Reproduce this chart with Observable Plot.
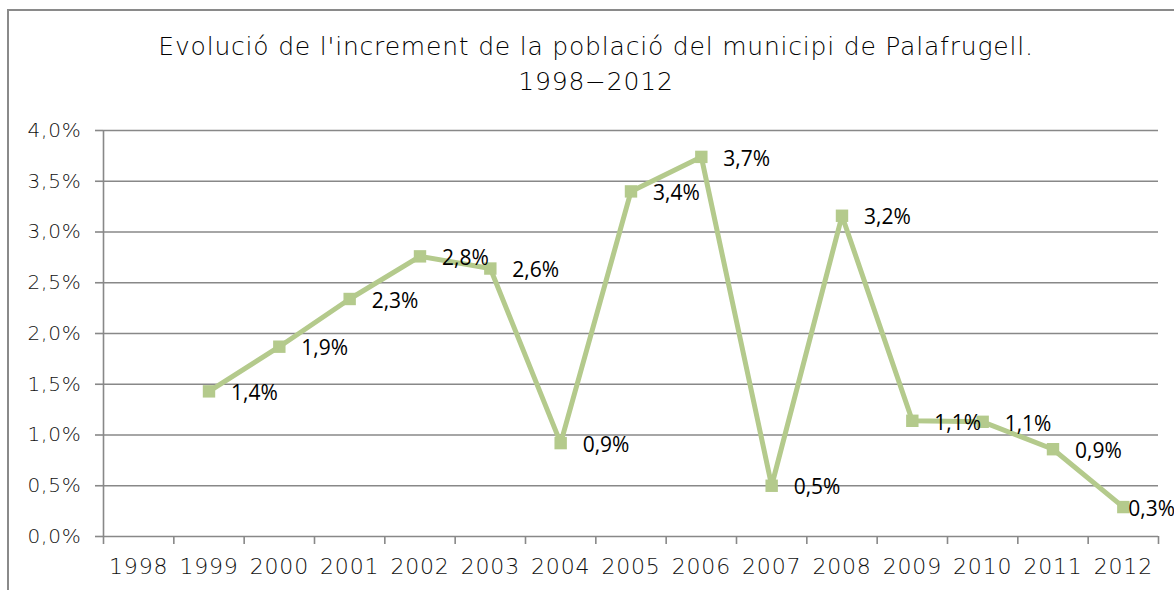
<!DOCTYPE html>
<html><head><meta charset="utf-8">
<script src="https://cdn.jsdelivr.net/npm/d3@7"></script>
<script src="https://cdn.jsdelivr.net/npm/@observablehq/plot@0.6"></script>
<style>
html,body{margin:0;padding:0;width:1174px;height:590px;overflow:hidden;background:#fff;}
#frame{position:absolute;left:7px;top:9px;width:1220px;height:640px;border:2px solid #8a8a8a;box-sizing:border-box;}
#title{position:absolute;left:0;top:29px;width:1192px;text-align:center;font-family:"DejaVu Sans";font-weight:200;font-size:25px;letter-spacing:0.8px;line-height:35px;color:#000;}
#chart{position:absolute;left:0;top:0;}
#chart svg g[aria-label$="tick label"] text{letter-spacing:0.8px;}
</style></head><body>
<div id="frame"></div>
<div id="title">Evolució de l'increment de la població del municipi de Palafrugell.<br>1998−2012</div>
<div id="chart"></div>
<script>
const years = [1998,1999,2000,2001,2002,2003,2004,2005,2006,2007,2008,2009,2010,2011,2012];
const valueYears = [1999,2000,2001,2002,2003,2004,2005,2006,2007,2008,2009,2010,2011,2012];
const values = [1.43,1.87,2.34,2.76,2.64,0.92,3.40,3.74,0.50,3.16,1.14,1.13,0.86,0.29];
const yTicks = [0,0.5,1,1.5,2,2.5,3,3.5,4];

const data = valueYears.map((y,i)=>({year:y, value:values[i]}));
const boundaries = years.map(y=>y-0.5).concat([years[years.length-1]+0.5]);
const fmtPct = d => d.toFixed(1).replace(".", ",") + "%";
const lineColor = "#b4ca8c";
const gridColor = "#888888";
const lastYear = valueYears[valueYears.length-1];

const chart = Plot.plot({
  width: 1174, height: 590,
  marginLeft: 103, marginRight: 16, marginTop: 130, marginBottom: 54,
  x: {type: "linear", domain: [boundaries[0], boundaries[boundaries.length-1]]},
  y: {domain: [0, 4]},
  style: {background: "transparent", overflow: "visible"},
  marks: [
    Plot.ruleY(yTicks, {stroke: gridColor, strokeWidth: 1.6}),
    Plot.ruleX([boundaries[0]], {stroke: gridColor, strokeWidth: 1.6}),
    Plot.axisY({ticks: yTicks, tickSize: 8, tickPadding: 14, tickFormat: fmtPct,
      fontSize: 20, fontFamily: "DejaVu Sans", fontWeight: 200, stroke: gridColor, strokeWidth: 1.6, fill: "#111", label: null}),
    Plot.axisX({ticks: years, tickSize: 0, tickPadding: 22, tickFormat: d => String(d),
      fontSize: 22, fontFamily: "DejaVu Sans", fontWeight: 200, fill: "#111", label: null}),
    Plot.axisX({ticks: boundaries, tickSize: 8, tickFormat: () => "", stroke: gridColor, strokeWidth: 1.6, label: null}),
    Plot.line(data, {x: "year", y: "value", stroke: lineColor, strokeWidth: 5}),
    Plot.dot(data, {x: "year", y: "value", symbol: "square", r: 7, fill: lineColor, stroke: "none"}),
    Plot.text(data.filter(d => d.year !== lastYear), {x: "year", y: "value", text: d => fmtPct(d.value), textAnchor: "start", dx: 22, dy: 2,
      fontSize: 21, fontFamily: "Open Sans", fill: "#000"}),
    Plot.text(data.filter(d => d.year === lastYear), {x: "year", y: "value", text: d => fmtPct(d.value), textAnchor: "start", dx: 5, dy: 2,
      fontSize: 21, fontFamily: "Open Sans", fill: "#000"})
  ]
});
document.getElementById("chart").appendChild(chart);
</script>
</body></html>
